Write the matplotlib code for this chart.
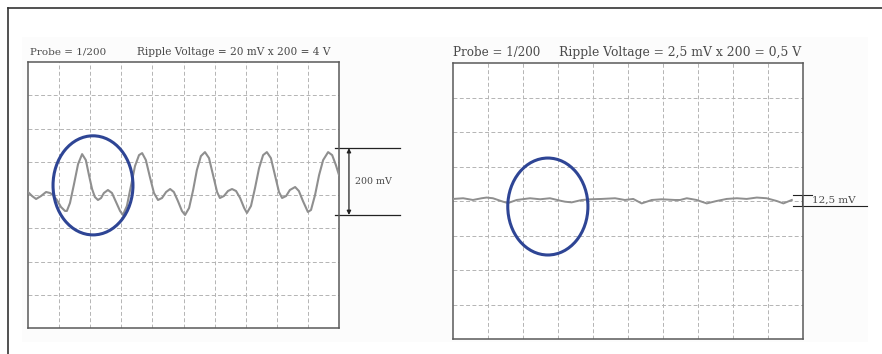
#!/usr/bin/env python3

import matplotlib
matplotlib.use("Agg")
import matplotlib.pyplot as plt
from matplotlib.patches import Ellipse, Rectangle
from matplotlib.lines import Line2D

# left scope: time in divisions, voltage in mV (100 mV/div)
left_t = [0.00, 0.13, 0.26, 0.42, 0.58, 0.71, 0.80, 0.93, 1.06, 1.19, 1.25, 1.35,
          1.48, 1.61, 1.74, 1.86, 1.96, 2.06, 2.15, 2.25, 2.35, 2.44, 2.57, 2.70,
          2.83, 2.96, 3.05, 3.18, 3.31, 3.44, 3.57, 3.67, 3.79, 3.92, 4.05, 4.18,
          4.31, 4.44, 4.57, 4.69, 4.82, 4.95, 5.05, 5.18, 5.31, 5.43, 5.56, 5.69,
          5.82, 5.95, 6.08, 6.17, 6.30, 6.43, 6.56, 6.69, 6.82, 6.95, 7.04, 7.17,
          7.30, 7.43, 7.56, 7.68, 7.81, 7.94, 8.07, 8.17, 8.30, 8.42, 8.59, 8.71,
          8.84, 9.00, 9.10, 9.23, 9.36, 9.49, 9.65, 9.78, 9.90, 10.00]
left_mv = [9, -3, -12, -3, 9, 6, 0, -15, -36, -48, -48, -24,
           33, 93, 123, 105, 60, 18, -6, -15, -9, 6, 15, 6,
           -21, -48, -60, -33, 27, 87, 120, 126, 105, 54, 6, -15,
           -9, 9, 18, 9, -18, -48, -60, -39, 15, 75, 117, 129,
           111, 60, 9, -9, -3, 12, 18, 12, -9, -39, -54, -33,
           21, 81, 120, 129, 111, 60, 9, -9, -3, 15, 24, 12,
           -18, -51, -45, 0, 60, 105, 129, 120, 90, 60]

# right scope: time and level in divisions
right_t = [0.01, 0.29, 0.57, 0.82, 0.96, 1.14, 1.43, 1.57, 1.82, 2.20, 2.49, 2.77,
           3.06, 3.20, 3.39, 3.68, 3.96, 4.25, 4.63, 4.91, 5.15, 5.39, 5.68, 5.96,
           6.34, 6.49, 6.68, 6.96, 7.25, 7.53, 7.82, 8.11, 8.39, 8.68, 8.96, 9.25,
           9.44, 9.68]
right_div = [0.06, 0.08, 0.03, 0.08, 0.10, 0.08, -0.02, -0.06, 0.03, 0.08, 0.05, 0.08,
             0.01, -0.02, -0.04, 0.03, 0.05, 0.06, 0.08, 0.03, 0.06, -0.07, 0.03, 0.05,
             0.03, 0.03, 0.08, 0.03, -0.07, 0.00, 0.06, 0.08, 0.06, 0.10, 0.08, 0.00,
             -0.07, 0.03]

left_title = ["Probe = 1/200", "Ripple Voltage = 20 mV x 200 = 4 V"]
right_title = ["Probe = 1/200", "Ripple Voltage = 2,5 mV x 200 = 0,5 V"]
left_marker = "200 mV"
right_marker = "12,5 mV"

W, H = 882, 354
TXT = "#4a4a4a"
GRID = "#b4b4b4"
TRACE = "#8f8f8f"
BLUE = "#2e4595"
FONT = "DejaVu Serif"


def px_box(x0, y0, x1, y1):
    return [x0 / W, 1 - y1 / H, (x1 - x0) / W, (y1 - y0) / H]


def scope(ax, ymax):
    ax.set_xlim(0, 10)
    ax.set_ylim(-ymax, ymax)
    ax.set_xticks([])
    ax.set_yticks([])
    ax.set_facecolor("white")
    for i in range(1, 10):
        ax.axvline(i, color=GRID, lw=0.7, ls=(0, (4, 2.5)), zorder=1)
    for j in range(1, 8):
        ax.axhline(-ymax + j * ymax / 4, color=GRID, lw=0.7, ls=(0, (4, 2.5)), zorder=1)
    for s in ax.spines.values():
        s.set_color("#5a5a5a")
        s.set_linewidth(1.1)


fig = plt.figure(figsize=(W / 100, H / 100), dpi=100)

# outer frame (left and top only) and faint panel backgrounds
fig.add_artist(Line2D([8 / W, 8 / W], [0, 1 - 8 / H], color="#333333", lw=1.2))
fig.add_artist(Line2D([8 / W, 1], [1 - 8 / H, 1 - 8 / H], color="#333333", lw=1.2))
fig.add_artist(Rectangle((22 / W, 1 - 342 / H), 419 / W, 305 / H,
                         color="#fcfcfc", lw=0, zorder=0))
fig.add_artist(Rectangle((441 / W, 1 - 342 / H), 427 / W, 305 / H,
                         color="#fcfcfc", lw=0, zorder=0))

# left scope
axl = fig.add_axes(px_box(28, 62, 339, 328))
scope(axl, 400)
axl.plot(left_t, left_mv, color=TRACE, lw=1.5, zorder=3, solid_joinstyle="round")
axl.add_patch(Ellipse((2.09, 29), 2.57, 298, fill=False, ec=BLUE, lw=2.2,
                      zorder=4, clip_on=False))
for y in (141, -60):
    axl.plot([9.87, 11.96], [y, y], color="#222222", lw=0.9, clip_on=False)
axl.annotate("", xy=(10.32, 141), xytext=(10.32, -60),
             arrowprops=dict(arrowstyle="<|-|>", color="#222222", lw=0.9,
                             mutation_scale=6, shrinkA=0, shrinkB=0),
             annotation_clip=False)
axl.text(10.51, 42, left_marker, fontsize=6.8, family=FONT, color=TXT,
         va="center", ha="left", clip_on=False)

fig.text(30 / W, 1 - 52 / H, left_title[0], fontsize=7.5, family=FONT,
         color=TXT, va="center", ha="left")
fig.text(137 / W, 1 - 52 / H, left_title[1], fontsize=7.6, family=FONT,
         color=TXT, va="center", ha="left")

# right scope
axr = fig.add_axes(px_box(453, 63, 803, 339))
scope(axr, 4)
axr.plot(right_t, right_div, color=TRACE, lw=1.4, zorder=3, solid_joinstyle="round")
axr.add_patch(Ellipse((2.71, -0.16), 2.29, 2.81, fill=False, ec=BLUE, lw=2.2,
                      zorder=4, clip_on=False))
axr.plot([9.71, 10.25], [0.17, 0.17], color="#222222", lw=0.8, clip_on=False)
axr.plot([9.71, 11.82], [-0.14, -0.14], color="#222222", lw=0.8, clip_on=False)
axr.plot([9.96, 9.96], [0.17, -0.14], color="#222222", lw=0.8, clip_on=False)
axr.text(10.25, 0.02, right_marker, fontsize=7.5, family=FONT, color=TXT,
         va="center", ha="left", clip_on=False)

fig.text(453 / W, 1 - 52.5 / H, right_title[0], fontsize=8.6, family=FONT,
         color=TXT, va="center", ha="left")
fig.text(559 / W, 1 - 52.5 / H, right_title[1], fontsize=8.9, family=FONT,
         color=TXT, va="center", ha="left")

fig.savefig("out.png", dpi=100)
